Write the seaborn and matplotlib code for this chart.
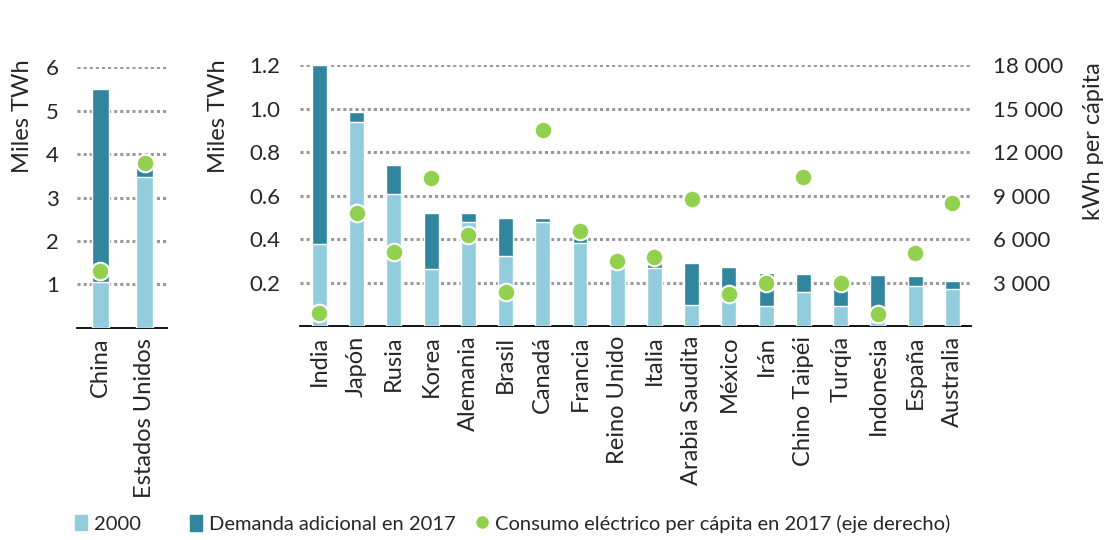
import numpy as np
import pandas as pd
import seaborn as sns
import matplotlib.pyplot as plt
from matplotlib.patches import Patch
from matplotlib.lines import Line2D
from matplotlib.ticker import FuncFormatter

# Valores (miles de TWh y kWh per capita)
paises_grandes = ["China", "Estados Unidos"]
demanda_2000_grandes = [1.06, 3.47]
demanda_2017_grandes = [5.50, 3.72]
per_capita_grandes = [3940, 11380]

paises = ["India", "Japón", "Rusia", "Korea", "Alemania", "Brasil", "Canadá", "Francia",
          "Reino Unido", "Italia", "Arabia Saudita", "México", "Irán", "Chino Taipéi",
          "Turqía", "Indonesia", "España", "Australia"]
demanda_2000 = [0.375, 0.94, 0.605, 0.26, 0.48, 0.32, 0.477, 0.383,
                0.273, 0.268, 0.097, 0.12, 0.092, 0.155,
                0.092, 0.02, 0.184, 0.169]
demanda_2017 = [1.20, 0.985, 0.74, 0.52, 0.518, 0.495, 0.495, 0.41,
                0.273, 0.288, 0.288, 0.273, 0.242, 0.239,
                0.234, 0.234, 0.231, 0.208]
per_capita = [870, 7810, 5120, 10230, 6280, 2320, 13520, 6550,
              4480, 4740, 8760, 2190, 3000, 10300,
              3000, 830, 5010, 8460]

CLARO = "#93CDDD"
OSCURO = "#31859C"
VERDE = "#92D050"
GRIS = "#999999"

sns.set_style("white")
plt.rcParams["font.family"] = ["Lato", "DejaVu Sans"]

fig = plt.figure(figsize=(11.05, 5.4), dpi=100)
ax_izq = fig.add_axes([0.0697, 0.3926, 0.0814, 0.4833])
ax_der = fig.add_axes([0.2715, 0.3963, 0.6072, 0.4833])


def dibujar_panel(ax, nombres, v2000, v2017, kwh, ymax, ancho):
    df = pd.DataFrame({"pais": nombres, "y2000": v2000, "y2017": v2017})
    sns.barplot(data=df, x="pais", y="y2017", color=OSCURO, width=ancho,
                saturation=1, ax=ax, zorder=2)
    sns.barplot(data=df, x="pais", y="y2000", color=CLARO, width=ancho,
                saturation=1, ax=ax, zorder=3)
    ax.set_ylim(0, ymax)
    ax.set_xlim(-0.52, len(nombres) - 0.5)
    ax.yaxis.grid(True, color=GRIS, linestyle=(0, (1, 1)), linewidth=2.2)
    ax.set_axisbelow(True)
    for s in ["top", "left", "right"]:
        ax.spines[s].set_visible(False)
    ax.spines["bottom"].set_color("black")
    ax.spines["bottom"].set_linewidth(1.3)
    ax.tick_params(axis="both", length=0, labelsize=16)
    ax.tick_params(axis="x", rotation=90, pad=7, labelsize=17)
    ax.set_xlabel("")
    ax.set_ylabel("")

    ax2 = ax.twinx()
    ax2.set_ylim(0, 18000)
    ax2.scatter(np.arange(len(nombres)), kwh, s=160, color=VERDE,
                edgecolor="white", linewidth=1.5, zorder=5)
    for s in ax2.spines.values():
        s.set_visible(False)
    ax2.tick_params(length=0, labelsize=16)
    return ax2


tw_izq = dibujar_panel(ax_izq, paises_grandes, demanda_2000_grandes, demanda_2017_grandes,
                       per_capita_grandes, 6, 0.38)
ax_izq.set_yticks([1, 2, 3, 4, 5, 6])
ax_izq.tick_params(axis="y", pad=13)
tw_izq.set_yticks([])

tw_der = dibujar_panel(ax_der, paises, demanda_2000, demanda_2017, per_capita, 1.2, 0.4)
ax_der.set_yticks([0.2, 0.4, 0.6, 0.8, 1.0, 1.2])
ax_der.yaxis.set_major_formatter(FuncFormatter(lambda v, p: f"{v:.1f}"))
ax_der.tick_params(axis="y", pad=14)
tw_der.set_yticks([3000, 6000, 9000, 12000, 15000, 18000])
tw_der.yaxis.set_major_formatter(FuncFormatter(lambda v, p: f"{int(v):,}".replace(",", " ")))
tw_der.tick_params(pad=16)

fig.text(0.02, 0.89, "Miles TWh", rotation=90, va="top", ha="center", fontsize=17)
fig.text(0.198, 0.89, "Miles TWh", rotation=90, va="top", ha="center", fontsize=17)
fig.text(0.99, 0.885, "kWh per cápita", rotation=90, va="top", ha="center", fontsize=17)

opciones = dict(loc="center left", ncol=2, frameon=False, fontsize=14.5, handlelength=0.6,
                handleheight=0.8, handletextpad=0.35, borderpad=0, borderaxespad=0,
                columnspacing=1.0)
fig.legend([Patch(color=CLARO)], ["2000"], bbox_to_anchor=(0.068, 0.03), **opciones)
fig.legend([Patch(color=OSCURO),
            Line2D([], [], marker="o", color=VERDE, linestyle="", markersize=8)],
           ["Demanda adicional en 2017", "Consumo eléctrico per cápita en 2017 (eje derecho)"],
           bbox_to_anchor=(0.172, 0.03), **opciones)

fig.savefig("out.png", dpi=100)
